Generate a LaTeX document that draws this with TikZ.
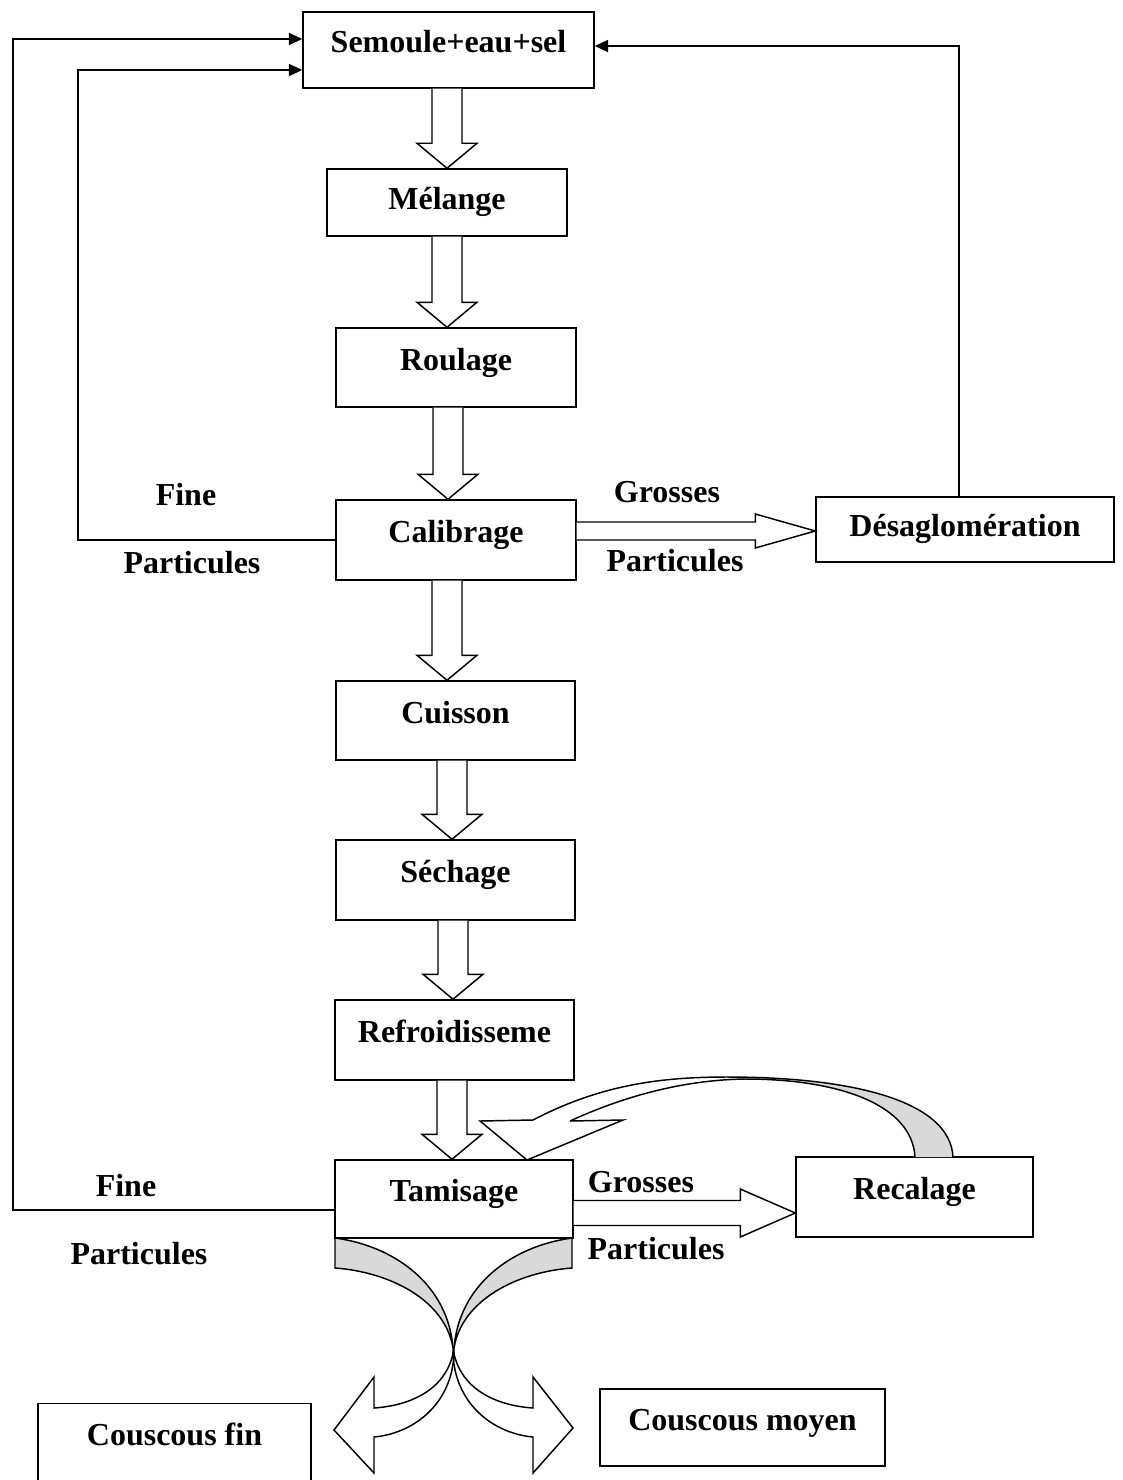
\documentclass[tikz,border=0pt]{standalone}
\usepackage{fontspec}
\setmainfont{Liberation Serif}
\usetikzlibrary{calc,arrows.meta}
\definecolor{band}{RGB}{217,217,217}
\newcommand\blkdown[3]{%
 \draw[hollow] let \p1=(#3,0), \p2=(#1.south), \p3=(#2.north) in
  (\x1-11.25pt,\y2) -- (\x1-11.25pt,\y3+18.75pt) -- (\x1-22.5pt,\y3+18.75pt) -- (\x1,\y3)
  -- (\x1+22.5pt,\y3+18.75pt) -- (\x1+11.25pt,\y3+18.75pt) -- (\x1+11.25pt,\y2);}
\newcommand\blkright[6]{%
 \draw[hollow] let \p1=(0,#3), \p2=(#1.east), \p3=(#2.west) in
  (\x2,\y1+#4*0.75pt) -- (\x3-#6*0.75pt,\y1+#4*0.75pt) -- (\x3-#6*0.75pt,\y1+#5*0.75pt) -- (\x3,\y1)
  -- (\x3-#6*0.75pt,\y1-#5*0.75pt) -- (\x3-#6*0.75pt,\y1-#4*0.75pt) -- (\x2,\y1-#4*0.75pt);}
\begin{document}
\begin{tikzpicture}[x=0.75pt,y=-0.75pt, line width=1.1pt,
  procbox/.style={draw, fill=white, inner sep=0pt, font=\fontsize{24}{28}\selectfont\bfseries, text height=0.68em, text depth=0.28em},
  lowtext/.style={text height=1.3em},
  lbl/.style={inner sep=0pt, font=\fontsize{24}{28}\selectfont\bfseries},
  sz/.style 2 args={minimum width=#1*0.75pt, minimum height=#2*0.75pt},
  fb/.style={-{Triangle[length=10pt,width=9pt]}},
  hollow/.style={draw, fill=white, line join=miter},
]
\useasboundingbox (0,0) rectangle (1122,1480);

% boxes
\node[procbox, sz={291}{76}] (sem) at (448.5,50) {Semoule+eau+sel};
\node[procbox, lowtext, sz={240}{67}] (mel) at (447,202.5) {Mélange};
\node[procbox, sz={240}{79}] (rou) at (456,367.5) {Roulage};
\node[procbox, sz={240}{80}] (cal) at (456,540) {Calibrage};
\node[procbox, lowtext, sz={298}{65}] (des) at (965,529.5) {Désaglomération};
\node[procbox, sz={239}{79}] (cui) at (455.5,720.5) {Cuisson};
\node[procbox, sz={239}{80}] (sec) at (455.5,880) {Séchage};
\node[procbox, sz={239}{80}] (ref) at (454.5,1040) {Refroidisseme};
\node[procbox, sz={238}{78}] (tam) at (454,1199) {Tamisage};
\node[procbox, sz={237}{80}] (rec) at (914.5,1197) {Recalage};
\node[draw, fill=white, inner sep=0pt, font=\fontsize{24}{28}\selectfont\bfseries,
  text height=31.5pt, text depth=37.5pt, minimum width=273*0.75pt, anchor=north] (fin) at (174.5,1403) {Couscous fin};
\node[procbox, sz={285}{77}] (moy) at (742.5,1427.5) {Couscous moyen};

% labels
\node[lbl] (f1) at (186,495) {Fine};
\node[lbl] (p1) at (192,563) {Particules};
\node[lbl] (g1) at (667,492) {Grosses};
\node[lbl] (p2) at (675,561) {Particules};
\node[lbl] (f2) at (126,1186) {Fine};
\node[lbl] (p3) at (139,1254) {Particules};
\node[lbl] (g2) at (641,1182) {Grosses};
\node[lbl] (p4) at (656,1249) {Particules};

% vertical block arrows
\blkdown{sem}{mel}{447}
\blkdown{mel}{rou}{447}
\blkdown{rou}{cal}{448}
\blkdown{cal}{cui}{447}
\blkdown{cui}{sec}{452}
\blkdown{sec}{ref}{453}
\blkdown{ref}{tam}{452}

% horizontal block arrows
\blkright{cal}{des}{531}{9}{17}{60}
\blkright{tam}{rec}{1213}{12.5}{24}{55}

% feedback lines
\coordinate (l1) at (13,1210); \coordinate (l2) at (13,39);
\draw[fb] (tam.west |- l1) -- (l1) -- (l2) -- (sem.west |- l2);
\coordinate (k1) at (78,540); \coordinate (k2) at (78,70);
\draw[fb] (cal.west |- k1) -- (k1) -- (k2) -- (sem.west |- k2);
\coordinate (r1) at (959,46);
\draw[fb] (des.north -| r1) -- (r1) -- (sem.east |- r1);

% curved return arrow Recalage -> Tamisage
\fill[band] (727,1077) .. controls (850,1077) and (950,1100) .. (953,1157) -- (915,1157)
   .. controls (912,1105) and (840,1079) .. (745,1079) -- cycle;
\draw (533,1120) .. controls (600,1085) and (660,1077) .. (727,1077)
   .. controls (850,1077) and (950,1100) .. (953,1157);
\draw (570,1121) .. controls (620,1098) and (680,1080) .. (745,1079)
   .. controls (840,1079) and (912,1105) .. (915,1157);
\draw[line join=miter] (570,1121) -- (623,1120) -- (527,1160) -- (480,1121) -- (533,1120);

% crossing arrows below Tamisage
\filldraw[fill=band] (335,1238) .. controls (395,1246) and (448,1285) .. (453,1348)
   .. controls (445,1300) and (390,1272) .. (335,1268) -- cycle;
\filldraw[fill=band] (572,1238) .. controls (512,1246) and (459,1285) .. (454,1348)
   .. controls (462,1300) and (517,1272) .. (572,1268) -- cycle;
\filldraw[fill=white, line join=miter] (453,1348) .. controls (458,1385) and (490,1405) .. (533,1408)
   -- (533,1377) -- (573,1428) -- (533,1473) -- (533,1437)
   .. controls (490,1433) and (452,1400) .. (453,1348);
\filldraw[fill=white, line join=miter] (454,1348) .. controls (449,1385) and (417,1405) .. (374,1408)
   -- (374,1377) -- (334,1430) -- (374,1473) -- (374,1437)
   .. controls (417,1433) and (455,1400) .. (454,1348);
\end{tikzpicture}
\end{document}
